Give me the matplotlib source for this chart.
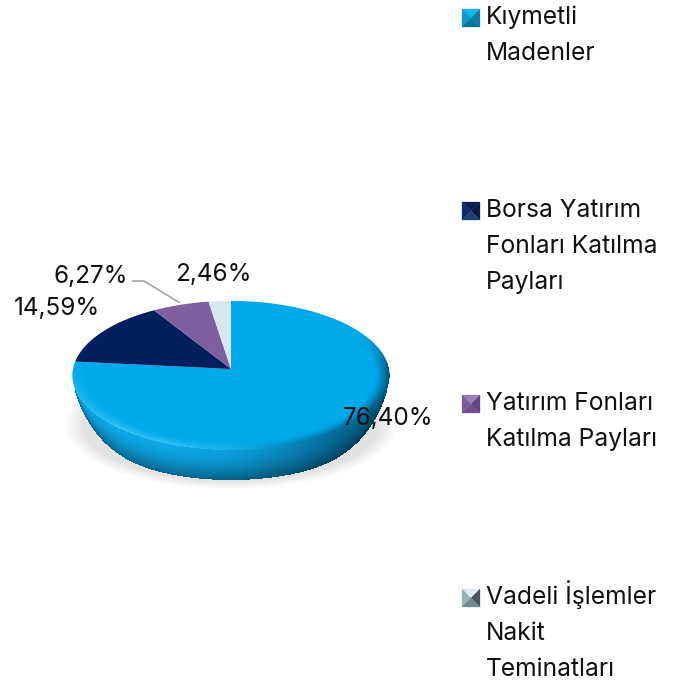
import matplotlib
matplotlib.use('Agg')
import matplotlib.pyplot as plt
from matplotlib.patches import Polygon
from matplotlib.colors import to_rgb
import numpy as np

# Datos del grafico
categorias = ['Kıymetli\nMadenler', 'Borsa Yatırım\nFonları Katılma\nPayları',
              'Yatırım Fonları\nKatılma Payları', 'Vadeli İşlemler\nNakit\nTeminatları']
valores = [76.40, 14.59, 6.27, 2.46]
colores = ['#00aaea', '#011f5f', '#7f5fa0', '#d6e7ef']

# tonos del marcador: arriba, izquierda, derecha, abajo
tonos = [['#12b4ec', '#0c98d2', '#0b7da8', '#0b7299'],
         ['#0a1f55', '#0c2a68', '#071a48', '#1f3e7c'],
         ['#9a7eb8', '#7b5c9c', '#5e4580', '#6d5090'],
         ['#dcecf0', '#9db0b8', '#4a565b', '#75878f']]

etiqueta_pos = [(434, 425), (100, 315), (128, 283), (252, 281)]
leyenda_y = [24, 217, 410, 604]
marcador_y = [18, 211, 404, 598]

fuente = 'Inter'
fig = plt.figure(figsize=(6.83, 6.84), dpi=100)
ax = fig.add_axes([0, 0, 1, 1])

# Geometria del disco con perspectiva
cx, cy, R, H, k, prof = 231, 369, 158, 74, 0.087, 30


def proyectar(theta):
    u = np.sin(theta)
    v = np.cos(theta)
    w = 1 + k * v
    return cx + R * u / w, cy - H * v / w


yy, xx = np.mgrid[0:684, 0:683] + 0.5
extent = (0, 683, 684, 0)

# Sombra
d = np.sqrt(((xx - 231) / 167) ** 2 + ((yy - 425) / 64) ** 2)
sombra = np.zeros(xx.shape + (4,))
sombra[..., :3] = 0.84
sombra[..., 3] = np.clip((1 - d) / 0.12, 0, 1) * 0.7
ax.imshow(sombra, extent=extent, zorder=1, interpolation='bilinear', aspect='auto')

# coordenadas del disco para cada pixel
Y = (cy - yy) / H
v_p = Y / (1 - k * Y)
u_p = (xx - cx) * (1 + k * v_p) / R
r_p = np.sqrt(u_p ** 2 + v_p ** 2)

# Lateral del disco: menos alto hacia los extremos
bx, by = proyectar(np.linspace(np.pi / 2 - 0.1, 3 * np.pi / 2 + 0.1, 400))
o = np.argsort(bx)
borde_y = np.interp(xx, bx[o], by[o])
alto = prof * np.clip(1 - np.abs((xx - cx) / R) ** 6, 0, 1)
prof_rel = np.clip((yy - borde_y + 4) / (alto + 4), 0, 1)

paradas = [0, 0.3, 0.48, 0.66, 0.84, 1]
tonos_lat = [to_rgb(c) for c in ['#0c9ad4', '#0c9ad4', '#0a93cc', '#0a7fb0', '#04628c', '#03506f']]
tx = np.clip((xx - 73) / 315, 0, 1)
lateral = np.zeros(xx.shape + (4,))
for c in range(3):
    lateral[..., c] = np.interp(tx, paradas, [q[c] for q in tonos_lat])
lateral[..., :3] = np.clip(lateral[..., :3] * (1.1 - 0.45 * prof_rel[..., None] ** 2), 0, 1)
lateral[..., 3] = (np.abs(xx - cx) < R) & (yy > cy) & (yy < borde_y + alto)
ax.imshow(lateral, extent=extent, zorder=2, interpolation='bilinear', aspect='auto')

# Cara superior: las porciones salen de los valores
fracciones = np.array(valores) / sum(valores)
acum = 0
for val, col in zip(fracciones, colores):
    ang = np.linspace(acum, acum + val, 200) * 2 * np.pi
    px, py = proyectar(ang)
    ax.add_patch(Polygon(np.column_stack([np.r_[cx, px], np.r_[cy, py]]), closed=True,
                         fc=col, ec='none', zorder=3))
    acum += val

# Bisel del borde
s = np.clip((r_p - 0.9) / 0.1, 0, 1) ** 1.5
osc = np.clip((u_p + 0.05) * 1.1, 0, 1) * np.clip((0.45 - v_p) * 2.2, 0, 1)
cla = np.clip(0.4 - u_p, 0, 1) * np.clip(0.1 - v_p, 0, 1) * 1.2
oscuro = np.array(to_rgb('#034f74'))
claro = np.array(to_rgb('#36c4f5'))
mezcla = (osc / (osc + cla + 1e-6))[..., None]
bisel = np.zeros(xx.shape + (4,))
bisel[..., :3] = mezcla * oscuro + (1 - mezcla) * claro
bisel[..., 3] = s * np.clip(osc + cla, 0, 1) * (r_p <= 1.0)
ax.imshow(bisel, extent=extent, zorder=4, interpolation='bilinear', aspect='auto')

# Linea guia de 6,27%
ax.plot([132.7, 144, 179], [281, 281, 302.3], color='#a6a6a6', lw=1.2, zorder=5)

# Etiquetas
for val, (ex, ey) in zip(valores, etiqueta_pos):
    ax.text(ex, ey, f'{val:.2f}%'.replace('.', ','), ha='right', va='baseline',
            fontsize=17.5, family=fuente, color='#111111', zorder=6)

# Leyenda
for nombre, y0, ym, tono in zip(categorias, leyenda_y, marcador_y, tonos):
    x0, x1 = 462, 480
    y_a, y_b = ym - 9, ym + 9
    mx = (x0 + x1) / 2
    caras = [[(x0, y_a), (x1, y_a), (mx, ym)], [(x0, y_a), (x0, y_b), (mx, ym)],
             [(x1, y_a), (x1, y_b), (mx, ym)], [(x0, y_b), (x1, y_b), (mx, ym)]]
    for cara, c in zip(caras, tono):
        ax.add_patch(Polygon(cara, closed=True, fc=c, ec=c, lw=0.2, zorder=5))
    for i, linea in enumerate(nombre.split('\n')):
        ax.text(486, y0 + i * 36.2, linea, ha='left', va='baseline', fontsize=17.7,
                family=fuente, color='#111111', zorder=6)

ax.set_xlim(0, 683)
ax.set_ylim(684, 0)
ax.axis('off')
fig.savefig('out.png', dpi=100, facecolor='white')
